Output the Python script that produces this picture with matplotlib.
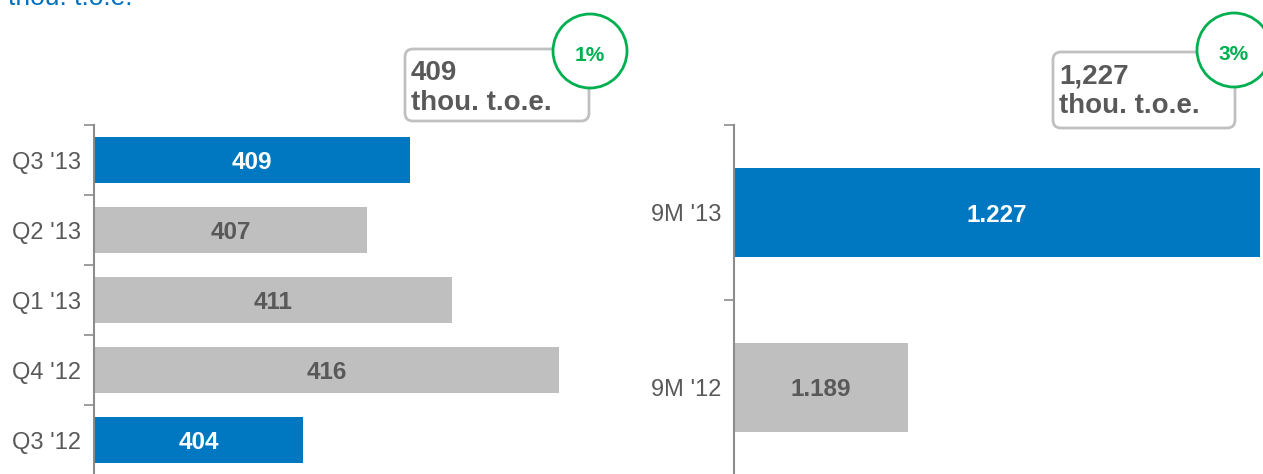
import matplotlib.pyplot as plt
from matplotlib.patches import FancyBboxPatch, Circle

plt.rcParams['font.family'] = ['Liberation Sans', 'DejaVu Sans']

# quarterly data (top to bottom)
quarters = ["Q3 '13", "Q2 '13", "Q1 '13", "Q4 '12", "Q3 '12"]
quarter_values = [409, 407, 411, 416, 404]
quarter_highlight = [True, False, False, False, True]

# nine-month data
periods = ["9M '13", "9M '12"]
period_values = [1227, 1189]
period_labels = ["1.227", "1.189"]
period_highlight = [True, False]

callout_left = ["409", "thou. t.o.e.", "1%"]
callout_right = ["1,227", "thou. t.o.e.", "3%"]
unit_title = "thou. t.o.e."

BLUE = "#0078c1"
GREY = "#bfbfbf"
DARK = "#595959"
GREEN = "#00b050"
SPINE = "#8c8c8c"

W, H = 1263, 474
fig = plt.figure(figsize=(W / 100, H / 100), dpi=100)


def style_axis(ax, labels):
    n = len(labels)
    ax.set_ylim(n - 0.5, -0.5)
    ax.set_yticks(range(n))
    ax.set_yticklabels(labels, fontsize=17, color=DARK)
    ax.set_yticks([i - 0.5 for i in range(n + 1)], minor=True)
    ax.tick_params(axis="y", which="major", length=0, pad=9)
    ax.tick_params(axis="y", which="minor", length=7, width=1.2, color=SPINE)
    ax.set_xticks([])
    for s in ["top", "right", "bottom"]:
        ax.spines[s].set_visible(False)
    ax.spines["left"].set_color(SPINE)
    ax.spines["left"].set_linewidth(1.5)


# left panel
ax1 = fig.add_axes([94 / W, -1 / H, 500 / W, 350 / H])
colors = [BLUE if h else GREY for h in quarter_highlight]
ax1.barh(range(len(quarters)), quarter_values, height=0.66, color=colors)
ax1.set_xlim(394.2, 417.64)
style_axis(ax1, quarters)
for i, (v, h) in enumerate(zip(quarter_values, quarter_highlight)):
    ax1.text((394.2 + v) / 2, i, str(v), ha="center", va="center_baseline",
             fontsize=17.5, fontweight="bold", color="white" if h else DARK)

# right panel
ax2 = fig.add_axes([734 / W, -1 / H, 529 / W, 350 / H])
colors = [BLUE if h else GREY for h in period_highlight]
ax2.barh(range(len(periods)), period_values, height=0.51, color=colors)
ax2.set_xlim(1170.2, 1227.3)
style_axis(ax2, periods)
for i, (v, lab, h) in enumerate(zip(period_values, period_labels, period_highlight)):
    ax2.text((1170.2 + v) / 2, i, lab, ha="center", va="center_baseline",
             fontsize=17.5, fontweight="bold", color="white" if h else DARK)

# overlay in pixel coordinates for callouts
ov = fig.add_axes([0, 0, 1, 1], facecolor="none")
ov.set_xlim(0, W)
ov.set_ylim(H, 0)
ov.axis("off")

ov.text(8, 5, unit_title, fontsize=19, color="#0070c0", va="baseline", ha="left")


def callout(x0, y0, x1, y1, lines, pct, cx, cy):
    box = FancyBboxPatch((x0, y0), x1 - x0, y1 - y0,
                         boxstyle="round,pad=0,rounding_size=8",
                         fc="white", ec="#c0c0c0", lw=2)
    ov.add_patch(box)
    ov.text(x0 + 6, y0 + 31, lines[0], fontsize=20, fontweight="bold",
            color=DARK, va="baseline")
    ov.text(x0 + 6, y0 + 61, lines[1], fontsize=20, fontweight="bold",
            color=DARK, va="baseline")
    ov.add_patch(Circle((cx, cy), 37, fc="white", ec=GREEN, lw=2))
    ov.text(cx, cy + 2, pct, fontsize=15, fontweight="bold", color=GREEN,
            ha="center", va="center_baseline")


callout(405, 49, 589, 121, callout_left[:2], callout_left[2], 590, 51)
callout(1053, 52, 1235, 128, callout_right[:2], callout_right[2], 1234, 50)

fig.savefig("out.png", dpi=100)
